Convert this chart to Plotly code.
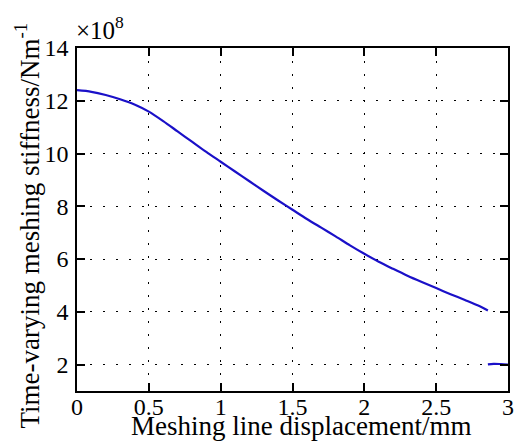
import plotly.graph_objects as go

x_main = [0, 0.1, 0.2, 0.3, 0.4, 0.5, 0.6, 0.7, 0.8, 0.9, 1.0, 1.1, 1.2, 1.3, 1.4,
          1.5, 1.6, 1.7, 1.8, 1.9, 2.0, 2.1, 2.2, 2.3, 2.4, 2.5, 2.6, 2.7, 2.8, 2.86]
y_main = [12.40, 12.34, 12.22, 12.06, 11.86, 11.59, 11.23, 10.84, 10.45, 10.06, 9.69,
          9.32, 8.95, 8.58, 8.22, 7.87, 7.52, 7.19, 6.86, 6.52, 6.20, 5.90, 5.63,
          5.37, 5.13, 4.90, 4.67, 4.45, 4.22, 4.05]
x_tail = [2.86, 2.9, 2.95, 3.0]
y_tail = [2.01, 2.03, 2.02, 2.00]

x_ticks = [0, 0.5, 1, 1.5, 2, 2.5, 3]
x_labels = ["0", "0.5", "1", "1.5", "2", "2.5", "3"]
y_ticks = [2, 4, 6, 8, 10, 12, 14]
y_labels = ["2", "4", "6", "8", "10", "12", "14"]

FONT = "Times New Roman, Liberation Serif, serif"
BLUE = "#1a10c8"

fig = go.Figure()
fig.add_trace(go.Scatter(x=x_main, y=y_main, mode="lines",
                         line=dict(color=BLUE, width=2.2, shape="spline", smoothing=0.8),
                         showlegend=False))
fig.add_trace(go.Scatter(x=x_tail, y=y_tail, mode="lines",
                         line=dict(color=BLUE, width=2.2, shape="spline"), showlegend=False))

axis_common = dict(
    showline=True, linecolor="black", linewidth=1.5, mirror="ticks",
    ticks="inside", ticklen=8, tickwidth=1.5, tickcolor="black",
    showgrid=True, gridcolor="black", gridwidth=1, griddash="2px,11px",
    zeroline=False, tickfont=dict(family=FONT, size=24, color="black"),
)

fig.update_xaxes(range=[0, 3], tickvals=x_ticks, ticktext=x_labels, ticklabelstandoff=-7,
                 **axis_common)
fig.update_yaxes(range=[1, 14], tickvals=y_ticks, ticktext=y_labels, ticklabelstandoff=2,
                 **axis_common)

fig.add_annotation(x=0.52, y=-0.152, xref="paper", yref="paper", xanchor="center", yanchor="bottom",
                   text="Meshing line displacement/mm", showarrow=False,
                   font=dict(family=FONT, size=27, color="black"))
fig.add_annotation(x=-0.115, y=0.484, xref="paper", yref="paper", xanchor="center", yanchor="middle",
                   text="Time-varying meshing stiffness/Nm<sup>-1</sup>", showarrow=False,
                   textangle=-90, font=dict(family=FONT, size=27, color="black"))
fig.add_annotation(x=0, y=1, xref="paper", yref="paper", xanchor="left", yanchor="bottom",
                   text="×10<sup>8</sup>", showarrow=False,
                   font=dict(family=FONT, size=25, color="black"), xshift=-3, yshift=2)

fig.update_layout(width=526, height=442, margin=dict(l=77, r=15, t=48, b=51),
                  font=dict(family=FONT, color="black"),
                  plot_bgcolor="white", paper_bgcolor="white")

fig.write_html("out.html", config={"displayModeBar": False},
               post_script="document.body.style.margin='0';document.body.style.overflow='hidden';")
